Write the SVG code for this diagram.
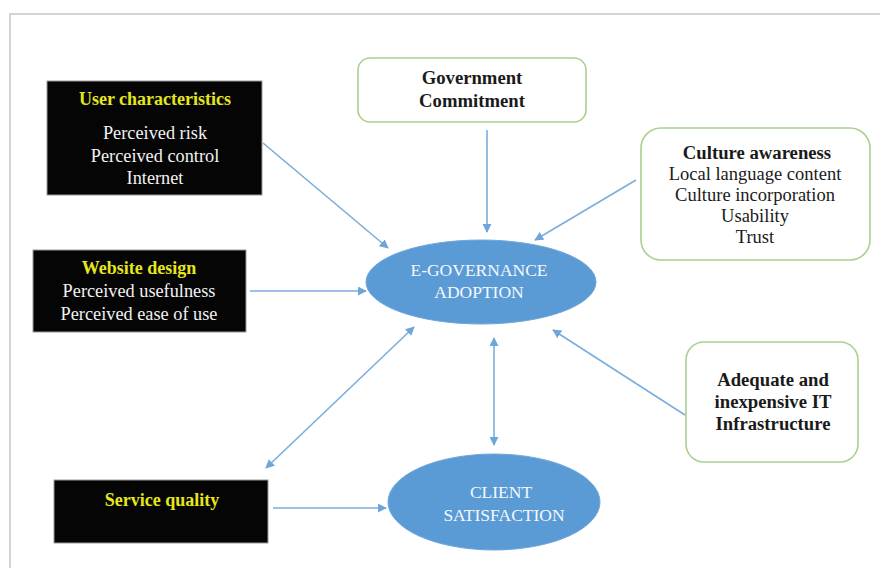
<svg xmlns="http://www.w3.org/2000/svg" width="880" height="568" viewBox="0 0 880 568">
  <defs>
    <marker id="ah" viewBox="0 0 10 10" refX="9" refY="5" markerWidth="9" markerHeight="9" markerUnits="userSpaceOnUse" orient="auto-start-reverse">
      <path d="M0,0 L10,5 L0,10 z" fill="#6fa6da"/>
    </marker>
    <style>
      .dark { fill: #050505; stroke: #9a9a9a; stroke-width: 1; }
      .soft { fill: #ffffff; stroke: #a9d08e; stroke-width: 1.6; }
      .oval { fill: #5b9bd5; stroke: #6fa6da; stroke-width: 1; }
      .t { text-anchor: middle; }
      .head { fill: #e6e61e; font-weight: bold; font-size: 18px; }
      .wht { fill: #f2f2f2; font-size: 18.3px; }
      .blk { fill: #1a1a1a; font-size: 18.5px; }
      .bold { font-weight: bold; font-size: 18.7px; }
      .ovt { fill: #f4f8fc; font-size: 17.5px; }
      .conn line { stroke: #7aaedc; stroke-width: 1.6; fill: none; }
    </style>
  </defs>

  <rect width="880" height="568" fill="#ffffff"/>
  <!-- page frame -->
  <path d="M10,568 L10,14 L880,14" fill="none" stroke="#d4d4d4" stroke-width="2"/>

  <!-- connectors -->
  <g id="connectors" class="conn">
    <line x1="263" y1="143" x2="388" y2="248" marker-end="url(#ah)"/>
    <line x1="487" y1="130" x2="487" y2="232" marker-end="url(#ah)"/>
    <line x1="636" y1="180" x2="535" y2="240" marker-end="url(#ah)"/>
    <line x1="250" y1="291" x2="366" y2="291" marker-end="url(#ah)"/>
    <line x1="266" y1="468" x2="414" y2="327" marker-start="url(#ah)" marker-end="url(#ah)"/>
    <line x1="494" y1="338" x2="494" y2="445" marker-start="url(#ah)" marker-end="url(#ah)"/>
    <line x1="685" y1="415" x2="553" y2="330" marker-end="url(#ah)"/>
    <line x1="273" y1="508" x2="386" y2="508" marker-end="url(#ah)"/>
  </g>

  <g font-family="'Liberation Serif', Tinos, 'Times New Roman', 'DejaVu Serif', serif">
  <g id="user-characteristics">
    <rect class="dark" x="47" y="81" width="215" height="114"/>
    <text class="t head" x="155" y="105">User characteristics</text>
    <text class="t wht" x="155" y="139">Perceived risk</text>
    <text class="t wht" x="155" y="162">Perceived control</text>
    <text class="t wht" x="155" y="184">Internet</text>
  </g>

  <g id="website-design">
    <rect class="dark" x="33" y="250" width="213" height="82"/>
    <text class="t head" x="139" y="274">Website design</text>
    <text class="t wht" x="139" y="297">Perceived usefulness</text>
    <text class="t wht" x="139" y="320">Perceived ease of use</text>
  </g>

  <g id="service-quality">
    <rect class="dark" x="54" y="480" width="214" height="63"/>
    <text class="t head" x="162" y="506">Service quality</text>
  </g>

  <g id="government-commitment">
    <rect class="soft" x="358" y="58" width="228" height="64" rx="12"/>
    <text class="t blk bold" x="472" y="84">Government</text>
    <text class="t blk bold" x="472" y="107">Commitment</text>
  </g>

  <g id="culture-awareness">
    <rect class="soft" x="641" y="128" width="229" height="132" rx="20"/>
    <text class="t blk bold" x="757" y="159">Culture awareness</text>
    <text class="t blk" x="755" y="180">Local language content</text>
    <text class="t blk" x="755" y="201">Culture incorporation</text>
    <text class="t blk" x="755" y="222">Usability</text>
    <text class="t blk" x="755" y="243">Trust</text>
  </g>

  <g id="it-infrastructure">
    <rect class="soft" x="686" y="342" width="172" height="120" rx="18"/>
    <text class="t blk bold" x="773" y="386">Adequate and</text>
    <text class="t blk bold" x="773" y="408">inexpensive IT</text>
    <text class="t blk bold" x="773" y="430">Infrastructure</text>
  </g>

  <g id="e-governance-adoption">
    <ellipse class="oval" cx="481" cy="282" rx="115" ry="42"/>
    <text class="t ovt" x="479" y="276">E-GOVERNANCE</text>
    <text class="t ovt" x="479" y="298">ADOPTION</text>
  </g>

  <g id="client-satisfaction">
    <ellipse class="oval" cx="494" cy="502" rx="106" ry="48"/>
    <text class="t ovt" x="501" y="498">CLIENT</text>
    <text class="t ovt" x="504" y="521">SATISFACTION</text>
  </g>
  </g>
</svg>
